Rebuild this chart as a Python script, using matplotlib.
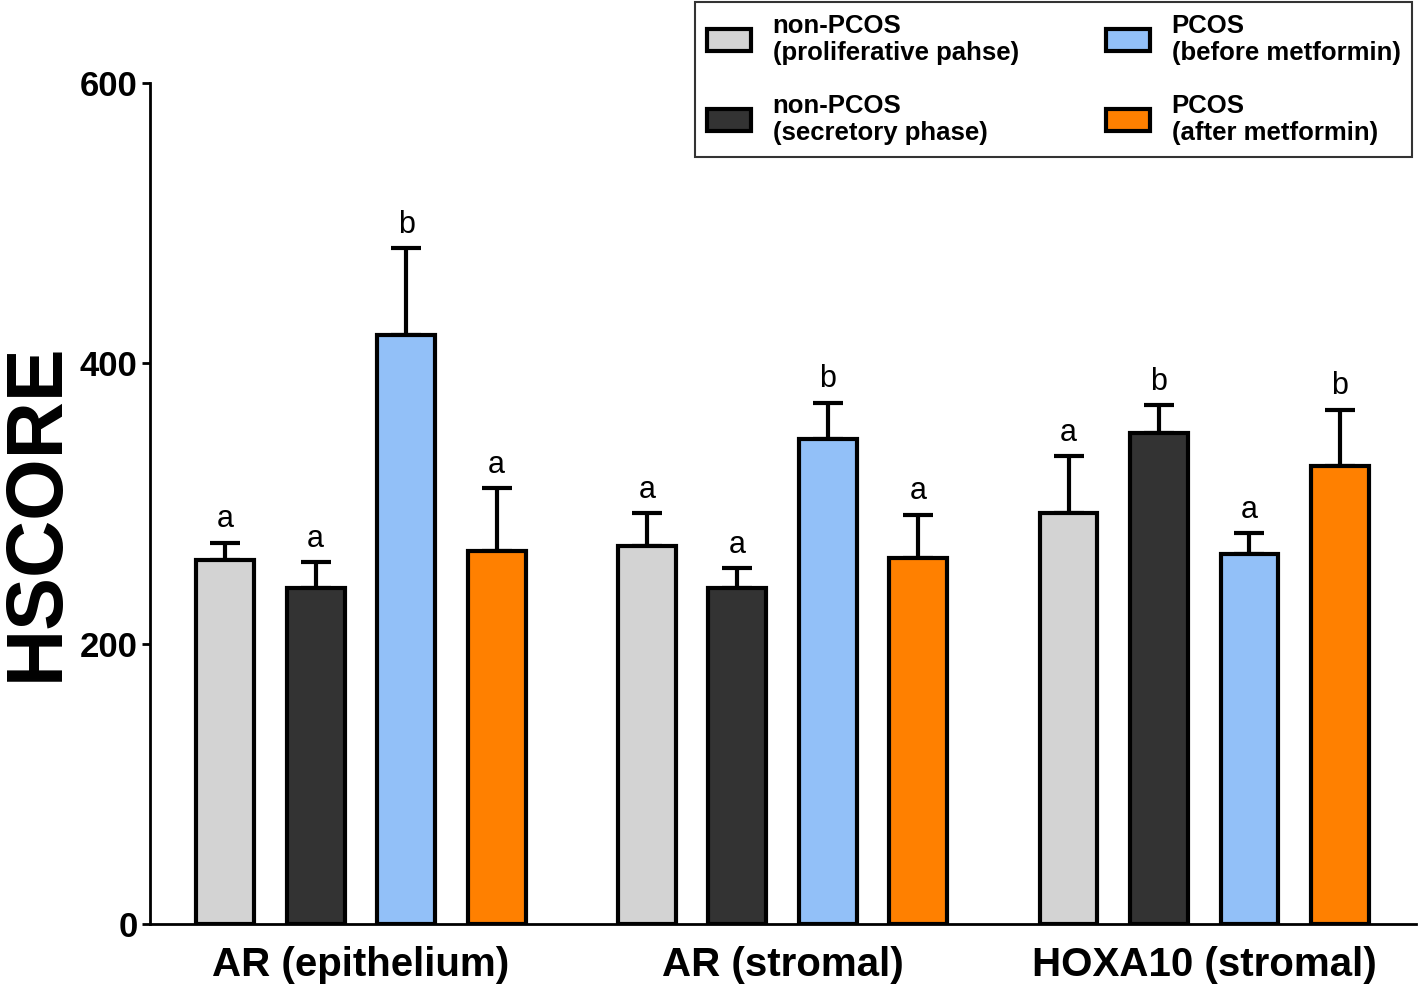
import numpy as np
import matplotlib
matplotlib.use("Agg")
import matplotlib.pyplot as plt

plt.rcParams['font.family'] = ['Liberation Sans', 'DejaVu Sans']

groups = ["AR (epithelium)", "AR (stromal)", "HOXA10 (stromal)"]
series = ["non-PCOS\n(proliferative pahse)", "non-PCOS\n(secretory phase)",
          "PCOS\n(before metformin)", "PCOS\n(after metformin)"]
colors_ = ["#d3d3d3", "#333333", "#92c0f8", "#ff8000"]

# mean values per series (one value per group)
means = [
    [260, 270, 293],
    [240, 240, 350],
    [420, 346, 264],
    [266, 261, 327],
]
# upper error (SD) per series
errs = [
    [12, 23, 41],
    [18, 14, 20],
    [62, 26, 15],
    [45, 31, 40],
]
letters = [
    ["a", "a", "a"],
    ["a", "a", "b"],
    ["b", "b", "a"],
    ["a", "a", "b"],
]

fig = plt.figure(figsize=(14.18, 9.85), dpi=100)
ax = fig.add_axes([150/1418, 1-924/985, (1416-150)/1418, (924-83)/985])

group_pos = np.arange(len(groups)) * 4.66
offsets = np.array([-1.5, -0.5, 0.5, 1.5])
width = 0.64

handles = []
for i in range(len(series)):
    x = group_pos + offsets[i]
    b = ax.bar(x, means[i], width, color=colors_[i], edgecolor='black',
               linewidth=3, label=series[i], zorder=2)
    handles.append(b)
    ax.errorbar(x, means[i], yerr=[np.zeros(3), errs[i]], fmt='none',
                ecolor='black', elinewidth=3, capsize=11, capthick=3, zorder=1)
    for xx, m, e, l in zip(x, means[i], errs[i], letters[i]):
        ax.annotate(l, (xx, m + e), xytext=(0, 11), textcoords='offset points',
                    ha='center', va='baseline', fontsize=22)

ax.set_xlim(-2.33, 11.66)
ax.set_ylim(0, 600)
ax.set_yticks([0, 200, 400, 600])
ax.set_xticks(group_pos)
ax.set_xticklabels(groups, fontsize=29, fontweight='bold')
ax.tick_params(axis='x', length=0, pad=16)
ax.tick_params(axis='y', length=6, width=2, pad=3, labelsize=25)
for t in ax.get_yticklabels():
    t.set_fontweight('bold')

for s in ['top', 'right']:
    ax.spines[s].set_visible(False)
ax.spines['left'].set_linewidth(2)
ax.spines['bottom'].set_linewidth(2)

fig.text(37/1418, 1-512/985, "HSCORE", rotation=90, ha='center', va='center',
         fontsize=57, fontweight='bold')

leg = fig.legend(handles=handles, labels=series, ncol=2, loc='upper right',
                 bbox_to_anchor=(1412/1418, 1-2/985), borderaxespad=0,
                 prop={'weight': 'bold', 'size': 18.5},
                 frameon=True, fancybox=False, edgecolor='black',
                 handlelength=1.7, handleheight=0.9, handletextpad=0.85,
                 labelspacing=1.1, columnspacing=3.4, borderpad=0.45)
leg.get_frame().set_linewidth(1.5)

fig.savefig("out.png", dpi=100)
